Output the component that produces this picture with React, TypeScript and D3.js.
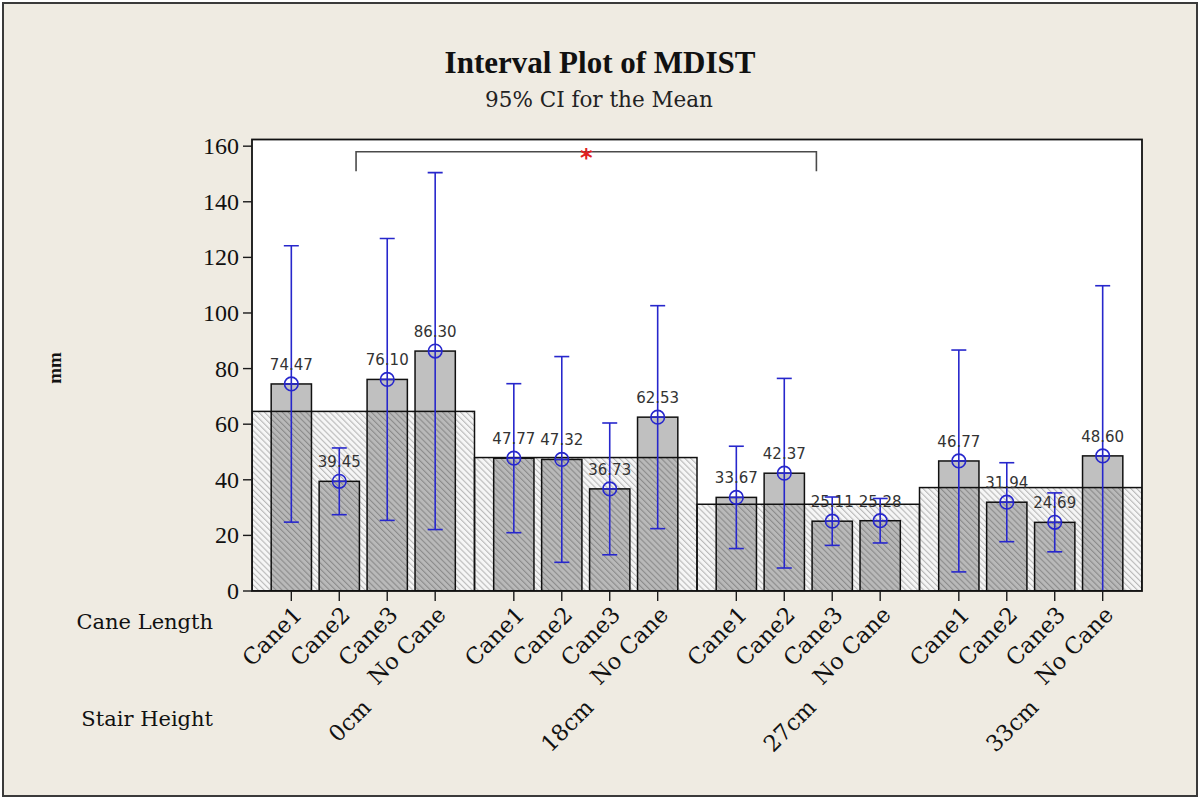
import { scaleBand, scaleLinear, scalePoint } from 'd3';

const stairHeights = ['0cm', '18cm', '27cm', '33cm'];
const caneLengths = ['Cane1', 'Cane2', 'Cane3', 'No Cane'];

// mean MDIST (mm) per stair height, then cane length
const meanMdist = [
  [74.47, 39.45, 76.1, 86.3],
  [47.77, 47.32, 36.73, 62.53],
  [33.67, 42.37, 25.11, 25.28],
  [46.77, 31.94, 24.69, 48.6],
];

// half width of the 95% CI
const ciHalfWidth = [
  [49.7, 12.0, 50.7, 64.2],
  [26.8, 37.0, 23.7, 40.1],
  [18.4, 34.1, 8.7, 8.0],
  [39.9, 14.2, 10.6, 61.2],
];

// level of the wide background bar for each stair height
const stairMeans = [64.6, 48.0, 31.2, 37.2];

const yTicks = [0, 20, 40, 60, 80, 100, 120, 140, 160];

// significance bracket, ends given as [stair index, position between canes]
const bracketFrom: [number, number] = [0, 1.35];
const bracketTo: [number, number] = [2, 1.67];
const bracketTop = 158;
const bracketBottom = 151;

const W = 1200;
const H = 799;
const plot = { left: 252, right: 1142, top: 139.5, bottom: 591 };

const BLUE = '#2727cc';
const serif = '"DejaVu Serif", serif';
const serif2 = '"Liberation Serif", serif';

export default function App() {
  const x0 = scaleBand<string>()
    .domain(stairHeights)
    .range([plot.left, plot.right])
    .padding(0);
  const x1 = scalePoint<string>()
    .domain(caneLengths)
    .range([0, x0.bandwidth()])
    .padding(0.82);
  const barW = x1.step() * 0.84;
  const y = scaleLinear().domain([0, 162.4]).range([plot.bottom, plot.top]);

  const cx = (g: number, i: number) =>
    (x0(stairHeights[g]) || 0) + (x1(caneLengths[i]) || 0);
  const between = ([g, f]: [number, number]) =>
    (x0(stairHeights[g]) || 0) + (x1(caneLengths[0]) || 0) + f * x1.step();

  const bx1 = between(bracketFrom);
  const bx2 = between(bracketTo);

  return (
    <svg width={W} height={H} style={{ display: 'block' }}>
      <style>{`body{margin:0}`}</style>
      <defs>
        <pattern
          id="hatch"
          width={4.2}
          height={4.2}
          patternUnits="userSpaceOnUse"
          patternTransform="rotate(-45)"
        >
          <rect width={4.2} height={4.2} fill="rgba(0,0,0,0.035)" />
          <line x1={0.6} y1={0} x2={0.6} y2={4.2} stroke="rgba(0,0,0,0.28)" strokeWidth={1} />
        </pattern>
        <clipPath id="plotClip">
          <rect
            x={plot.left}
            y={plot.top}
            width={plot.right - plot.left}
            height={plot.bottom - plot.top}
          />
        </clipPath>
      </defs>

      <rect x={3} y={3} width={W - 6} height={H - 6} fill="#efebe2" stroke="#3a3a3a" strokeWidth={2} />

      {/* title */}
      <text x={600} y={73} textAnchor="middle" fontFamily={serif2} fontWeight="bold" fontSize={31} fill="#111">
        Interval Plot of MDIST
      </text>
      <text x={599} y={107} textAnchor="middle" fontFamily={serif} fontSize={21.5} fill="#222">
        95% CI for the Mean
      </text>

      {/* plot area */}
      <rect
        x={plot.left}
        y={plot.top}
        width={plot.right - plot.left}
        height={plot.bottom - plot.top}
        fill="#fff"
      />

      <g clipPath="url(#plotClip)">
        {meanMdist.map((row, g) =>
          row.map((v, i) => (
            <rect
              key={`bar-${g}-${i}`}
              x={cx(g, i) - barW / 2}
              y={y(v)}
              width={barW}
              height={y(0) - y(v)}
              fill="#c0c0c0"
              stroke="#111"
              strokeWidth={1.5}
            />
          ))
        )}
        {stairMeans.map((v, g) => (
          <rect
            key={`grp-${g}`}
            x={x0(stairHeights[g]) || 0}
            y={y(v)}
            width={x0.bandwidth()}
            height={y(0) - y(v)}
            fill="url(#hatch)"
            stroke="#111"
            strokeWidth={1.5}
          />
        ))}

        {meanMdist.map((row, g) =>
          row.map((v, i) => {
            const x = cx(g, i);
            const hw = ciHalfWidth[g][i];
            const yHi = y(v + hw);
            const yLo = y(v - hw);
            const cap = 7.5;
            const r = 6.8;
            return (
              <g key={`ci-${g}-${i}`} stroke={BLUE} strokeWidth={1.6} fill="none">
                <line x1={x} x2={x} y1={yHi} y2={yLo} />
                <line x1={x - cap} x2={x + cap} y1={yHi} y2={yHi} />
                <line x1={x - cap} x2={x + cap} y1={yLo} y2={yLo} />
                <circle cx={x} cy={y(v)} r={r} />
                <line x1={x - r} x2={x + r} y1={y(v)} y2={y(v)} />
              </g>
            );
          })
        )}

        {meanMdist.map((row, g) =>
          row.map((v, i) => (
            <text
              key={`lbl-${g}-${i}`}
              x={cx(g, i)}
              y={y(v) - 14}
              textAnchor="middle"
              fontFamily='"DejaVu Sans", sans-serif'
              fontSize={15}
              fill="#333"
            >
              {v.toFixed(2)}
            </text>
          ))
        )}

        {/* bracket */}
        <path
          d={`M${bx1},${y(bracketBottom)}V${y(bracketTop)}H${bx2}V${y(bracketBottom)}`}
          fill="none"
          stroke="#4a4a4a"
          strokeWidth={1.6}
        />
        <text
          x={(bx1 + bx2) / 2}
          y={y(bracketTop) + 14}
          textAnchor="middle"
          fontFamily='"DejaVu Sans", sans-serif'
          fontSize={24}
          fontWeight="bold"
          fill="#e02020"
        >
          *
        </text>
      </g>

      {/* frame */}
      <rect
        x={plot.left}
        y={plot.top}
        width={plot.right - plot.left}
        height={plot.bottom - plot.top}
        fill="none"
        stroke="#111"
        strokeWidth={1.8}
      />

      {/* y axis */}
      {yTicks.map((t) => (
        <g key={`yt-${t}`}>
          <line x1={plot.left - 9} x2={plot.left} y1={y(t)} y2={y(t)} stroke="#1a1a1a" strokeWidth={1.4} />
          <text
            x={plot.left - 13}
            y={y(t) + 8}
            textAnchor="end"
            fontFamily={serif2}
            fontSize={24}
            fill="#111"
          >
            {t}
          </text>
        </g>
      ))}
      <text
        transform={`translate(61,368) rotate(-90)`}
        textAnchor="middle"
        fontFamily={serif2}
        fontWeight="bold"
        fontSize={19}
        fill="#111"
      >
        mm
      </text>

      {/* x axis */}
      {stairHeights.map((s, g) =>
        caneLengths.map((c, i) => {
          const x = cx(g, i);
          return (
            <g key={`xt-${g}-${i}`}>
              <line x1={x} x2={x} y1={plot.bottom} y2={plot.bottom + 10} stroke="#1a1a1a" strokeWidth={1.4} />
              <text
                transform={`translate(${x + 12},${plot.bottom + 25}) rotate(-45)`}
                textAnchor="end"
                fontFamily={serif}
                fontSize={22.5}
                fill="#111"
              >
                {c}
              </text>
            </g>
          );
        })
      )}
      {stairHeights.map((s) => (
        <text
          key={`sh-${s}`}
          transform={`translate(${(x0(s) || 0) + x0.bandwidth() / 2 + 9},${plot.bottom + 118}) rotate(-45)`}
          textAnchor="end"
          fontFamily={serif}
          fontSize={22.5}
          fill="#111"
        >
          {s}
        </text>
      ))}
      <text x={213} y={629} textAnchor="end" fontFamily={serif} fontSize={21} fill="#111">
        Cane Length
      </text>
      <text x={213} y={726} textAnchor="end" fontFamily={serif} fontSize={21} fill="#111">
        Stair Height
      </text>
    </svg>
  );
}
